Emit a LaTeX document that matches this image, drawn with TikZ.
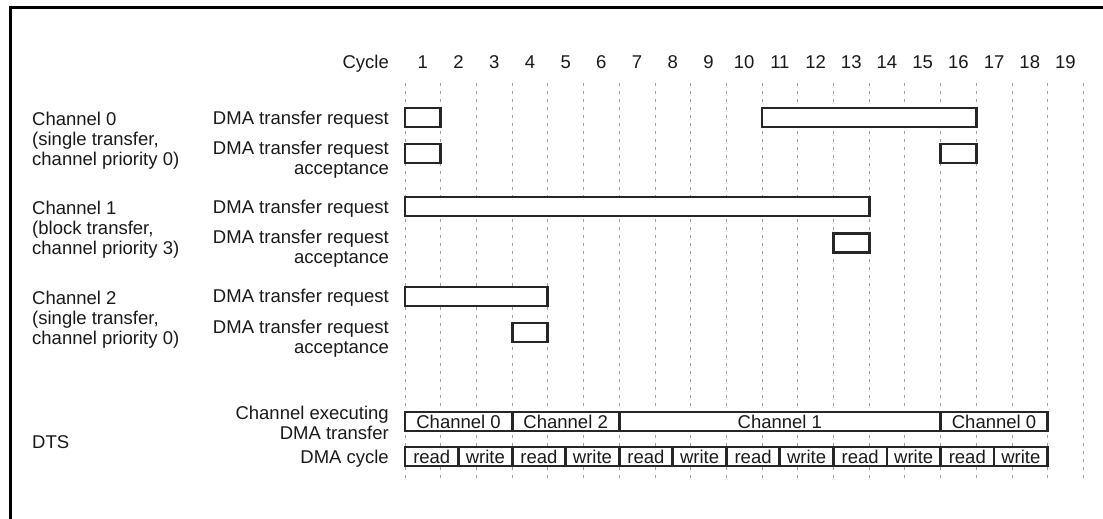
\documentclass[tikz,border=0pt]{standalone}
\usepackage{fontspec}
\setmainfont{Liberation Sans}
\begin{document}
\begin{tikzpicture}[x=1pt,y=-1pt,
  txt/.style={inner sep=0pt, font=\fontsize{18.5}{20}\selectfont, text=black!90},
  gridline/.style={draw=black!38, line width=0.8pt, dash pattern=on 3pt off 5pt},
  bar/.style={draw=black!85, line width=2.8pt, fill=white, minimum height=19pt,
     inner sep=0pt, outer sep=0pt, anchor=north west, font=\fontsize{18.5}{20}\selectfont, text=black!90},
  frameline/.style={line width=3pt, draw=black}]
\useasboundingbox (0,0) rectangle (1103,519);
% frame
\coordinate (fTR) at (1103,7.5);
\coordinate (fTL) at (10,7.5);
\coordinate (fBL) at (10,519);
\draw[frameline] (fTR) -- (fTL) -- (fBL);
% grid
\foreach \k in {0,...,19} {
  \coordinate (gt\k) at ({405+35.7*\k},83);
  \coordinate (gb\k) at ({405+35.7*\k},480);
  \draw[gridline] (gt\k) -- (gb\k);
}
% header
\node[txt, anchor=base east] (cyc) at (389,68.6) {Cycle};
\foreach \k in {1,...,19} {
  \node[txt, anchor=base] (n\k) at ({405+35.7*(\k-0.5)},68.6) {\k};
}
% left group labels
\node[txt, align=left, anchor=north west] (ch0) at (32,112.3) {Channel 0\\(single transfer,\\channel priority 0)};
\node[txt, align=left, anchor=north west] (ch1) at (32,201.3) {Channel 1\\(block transfer,\\channel priority 3)};
\node[txt, align=left, anchor=north west] (ch2) at (32,291.3) {Channel 2\\(single transfer,\\channel priority 0)};
\node[txt, anchor=base west] (dts) at (32,448.6) {DTS};
% row labels
\node[txt, anchor=base east] (rq0) at (389,124.3) {DMA transfer request};
\node[txt, align=right, anchor=north east] (ac0) at (389,141.3) {DMA transfer request\\acceptance};
\node[txt, anchor=base east] (rq1) at (389,213.3) {DMA transfer request};
\node[txt, align=right, anchor=north east] (ac1) at (389,230.3) {DMA transfer request\\acceptance};
\node[txt, anchor=base east] (rq2) at (389,302.8) {DMA transfer request};
\node[txt, align=right, anchor=north east] (ac2) at (389,320.3) {DMA transfer request\\acceptance};
\node[txt, align=right, anchor=north east] (exl) at (389,406.3) {Channel executing\\DMA transfer};
\node[txt, anchor=base east] (cyl) at (389,463.6) {DMA cycle};
% request / acceptance bars
\node[bar, minimum width=35.7pt] (r0a) at (405,108) {};
\node[bar, minimum width=35.7pt] (a0a) at (405,144) {};
\node[bar, minimum width={35.7*6}] (r0b) at ({405+35.7*10},108) {};
\node[bar, minimum width=35.7pt] (a0b) at ({405+35.7*15},144) {};
\node[bar, minimum width={35.7*13}] (r1) at (405,197) {};
\node[bar, minimum width=35.7pt] (a1) at ({405+35.7*12},233.5) {};
\node[bar, minimum width={35.7*4}] (r2) at (405,287) {};
\node[bar, minimum width=35.7pt] (a2) at ({405+35.7*3},323) {};
% executing channel
\node[bar, minimum width={35.7*3}] (e1) at (405,412) {Channel 0};
\node[bar, minimum width={35.7*3}] (e2) at ({405+35.7*3},412) {Channel 2};
\node[bar, minimum width={35.7*9}] (e3) at ({405+35.7*6},412) {Channel 1};
\node[bar, minimum width={35.7*3}] (e4) at ({405+35.7*15},412) {Channel 0};
% DMA cycles
\foreach \i in {0,2,...,10} {
  \node[bar, minimum width=53.55pt] (rd\i) at ({405+53.55*\i},447) {read};
}
\foreach \i in {1,3,...,11} {
  \node[bar, minimum width=53.55pt] (wr\i) at ({405+53.55*\i},447) {write};
}
\end{tikzpicture}
\end{document}
